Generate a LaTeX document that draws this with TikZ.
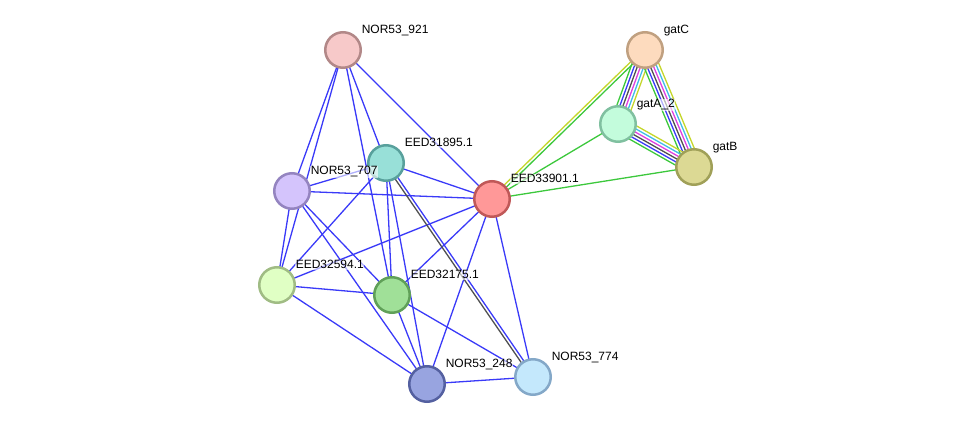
\documentclass[tikz,border=0pt]{standalone}
\usepackage{fontspec}
\setmainfont{Liberation Sans}
\usetikzlibrary{calc,backgrounds}

\definecolor{eblue}{HTML}{3A3AF8}
\definecolor{egreen}{HTML}{3CC83C}
\definecolor{eyellow}{HTML}{C4D62A}
\definecolor{emag}{HTML}{E040E0}
\definecolor{ecyan}{HTML}{40BCE8}
\definecolor{edark}{HTML}{505050}

% parallel coloured lines between two nodes
\newcommand{\bundle}[4]{%
  \foreach \c [count=\i] in {#4} {
    \pgfmathsetmacro\off{(\i-(#3+1)/2)*3}
    \draw[link, color=\c] ($(#1.center)!\off pt!90:(#2.center)$) -- ($(#2.center)!\off pt!-90:(#1.center)$);
  }}

\tikzset{
  prot/.style={circle, minimum size=35.5pt, inner sep=0pt, line width=2.5pt},
  lbl/.style={font=\fontsize{12}{12}\selectfont, inner sep=0.6pt, anchor=base west,
    fill=white, fill opacity=0.6, text opacity=1},
  link/.style={eblue, line width=1.3pt}
}

\begin{document}
\begin{tikzpicture}[x=1pt, y=-1pt]
  \useasboundingbox (0,0) rectangle (975,430);

  \node[prot, fill={rgb,255:red,247;green,201;blue,201}, draw={rgb,255:red,178;green,136;blue,136}] (n921) at (343,50) {};
  \node[prot, fill={rgb,255:red,253;green,219;blue,190}, draw={rgb,255:red,192;green,160;blue,128}] (gatC) at (645,50) {};
  \node[prot, fill={rgb,255:red,195;green,252;blue,220}, draw={rgb,255:red,128;green,192;blue,160}] (gatA) at (618,124) {};
  \node[prot, fill={rgb,255:red,220;green,217;blue,148}, draw={rgb,255:red,160;green,160;blue,88}] (gatB) at (694,167) {};
  \node[prot, fill={rgb,255:red,152;green,224;blue,216}, draw={rgb,255:red,88;green,160;blue,156}] (e31895) at (386,163) {};
  \node[prot, fill={rgb,255:red,212;green,196;blue,252}, draw={rgb,255:red,148;green,132;blue,192}] (n707) at (292,191) {};
  \node[prot, fill={rgb,255:red,255;green,152;blue,152}, draw={rgb,255:red,192;green,88;blue,88}] (e33901) at (492,199) {};
  \node[prot, fill={rgb,255:red,224;green,255;blue,196}, draw={rgb,255:red,160;green,188;blue,132}] (e32594) at (277,285) {};
  \node[prot, fill={rgb,255:red,160;green,224;blue,152}, draw={rgb,255:red,96;green,160;blue,88}] (e32175) at (392,295) {};
  \node[prot, fill={rgb,255:red,152;green,164;blue,224}, draw={rgb,255:red,84;green,96;blue,160}] (n248) at (427,384) {};
  \node[prot, fill={rgb,255:red,196;green,232;blue,252}, draw={rgb,255:red,132;green,168;blue,200}] (n774) at (533,377) {};

  \begin{scope}[on background layer]
    \foreach \a/\b in {n921/n707, n921/e32594, n921/e31895, n921/e32175, n921/e33901,
        e31895/n707, e31895/e33901, e31895/e32594, e31895/e32175, e31895/n248,
        n707/e33901, n707/e32594, n707/e32175, n707/n248,
        e33901/e32594, e33901/e32175, e33901/n248, e33901/n774,
        e32594/e32175, e32594/n248, e32175/n248, e32175/n774, n248/n774}
      \draw[link] (\a.center) -- (\b.center);
    \bundle{e31895}{n774}{2}{edark,eblue}
    \bundle{e33901}{gatC}{2}{egreen,eyellow}
    \draw[link, egreen] (e33901.center) -- (gatA.center);
    \draw[link, egreen] (e33901.center) -- (gatB.center);
    \bundle{gatC}{gatA}{6}{egreen,eblue,edark,emag,ecyan,eyellow}
    \bundle{gatC}{gatB}{6}{egreen,eblue,edark,emag,ecyan,eyellow}
    \bundle{gatA}{gatB}{6}{egreen,eblue,edark,emag,ecyan,eyellow}
  \end{scope}

  \node[lbl] (l921) at ($(n921)+(18,-16)$) {NOR53\_921};
  \node[lbl] (lgatC) at ($(gatC)+(18,-16)$) {gatC};
  \node[lbl] (lgatA) at ($(gatA)+(18,-16)$) {gatA\_2};
  \node[lbl] (lgatB) at ($(gatB)+(18,-16)$) {gatB};
  \node[lbl] (l31895) at ($(e31895)+(18,-16)$) {EED31895.1};
  \node[lbl] (l707) at ($(n707)+(18,-16)$) {NOR53\_707};
  \node[lbl] (l33901) at ($(e33901)+(18,-16)$) {EED33901.1};
  \node[lbl] (l32594) at ($(e32594)+(18,-16)$) {EED32594.1};
  \node[lbl] (l32175) at ($(e32175)+(18,-16)$) {EED32175.1};
  \node[lbl] (l248) at ($(n248)+(18,-16)$) {NOR53\_248};
  \node[lbl] (l774) at ($(n774)+(18,-16)$) {NOR53\_774};
\end{tikzpicture}
\end{document}
